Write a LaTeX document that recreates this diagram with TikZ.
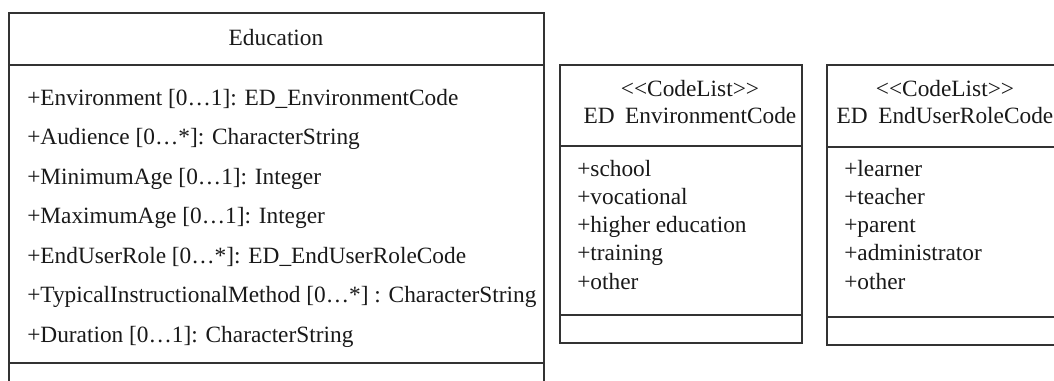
\documentclass[tikz,border=0pt]{standalone}
\usepackage{fontspec}
\setmainfont{Liberation Serif}
\usepackage{xcolor}

\tikzset{
  umlline/.style={draw=black!80, line width=1.3pt},
  umltext/.style={inner sep=0pt, text height=0.68em, text depth=0.22em,
                  text=black!90, font=\fontsize{17.5}{20}\selectfont},
  attr/.style={umltext, anchor=west},
}

\begin{document}
\begin{tikzpicture}[x=0.75pt, y=-0.75pt]
    \useasboundingbox (0,0) rectangle (1054,381);

    % Classe Education
    \draw[umlline] (9,392) -- (9,13) -- (544,13) -- (544,392);
    \draw[umlline] (9,65) -- (544,65);
    \draw[umlline] (9,363) -- (544,363);
    \node[umltext] (edu) at (276,42) {Education};
    \foreach \i/\txt in {0/{+Environment [0…1]: ED\_EnvironmentCode},
                         1/{+Audience [0…*]: CharacterString},
                         2/{+MinimumAge [0…1]: Integer},
                         3/{+MaximumAge [0…1]: Integer},
                         4/{+EndUserRole [0…*]: ED\_EndUserRoleCode},
                         5/{+TypicalInstructionalMethod [0…*] : CharacterString},
                         6/{+Duration [0…1]: CharacterString}}
        \node[attr] (eduattr\i) at (27,102+39.5*\i) {\txt};

    % CodeList ED_EnvironmentCode
    \draw[umlline] (560,65) rectangle (802,343);
    \draw[umlline] (560,146) -- (802,146);
    \draw[umlline] (560,315) -- (802,315);
    \node[umltext] (envstereo) at (690,93) {<\kern0pt<CodeList>\kern0pt>};
    \node[umltext] (envname) at (690,120) {ED\hspace{0.45em}EnvironmentCode};
    \foreach \i/\txt in {0/school, 1/vocational, 2/higher education, 3/training, 4/other}
        \node[attr] (envval\i) at (577,173+28.3*\i) {+\txt};

    % CodeList ED_EndUserRoleCode
    \draw[umlline] (1060,65) -- (827,65) -- (827,345) -- (1060,345);
    \draw[umlline] (827,147) -- (1060,147);
    \draw[umlline] (827,317) -- (1060,317);
    \node[umltext] (rolestereo) at (945,93) {<\kern0pt<CodeList>\kern0pt>};
    \node[umltext] (rolename) at (945,120) {ED\hspace{0.45em}EndUserRoleCode};
    \foreach \i/\txt in {0/learner, 1/teacher, 2/parent, 3/administrator, 4/other}
        \node[attr] (roleval\i) at (844,173+28.3*\i) {+\txt};
\end{tikzpicture}
\end{document}
